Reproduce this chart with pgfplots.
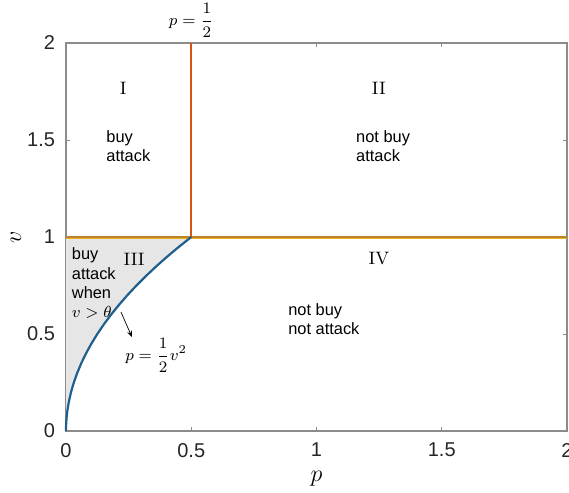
\documentclass[border=0pt]{standalone}
\usepackage{pgfplots}
\pgfplotsset{compat=1.18}
\usepackage{fontspec}
\setsansfont{Liberation Sans}
\usetikzlibrary{arrows.meta}
\definecolor{mred}{HTML}{D95319}
\definecolor{myel}{HTML}{EDB120}
\definecolor{mbrown}{HTML}{B8842C}
\definecolor{mblue}{HTML}{1F5F8E}
\definecolor{fillgray}{HTML}{E6E6E6}
\definecolor{framegray}{HTML}{8C8C8C}

% boundary p = v^2/2 for v in [0,1]
\pgfplotstableread{
p v
0.000000 0.00
0.000050 0.01
0.000200 0.02
0.000450 0.03
0.000800 0.04
0.001250 0.05
0.002450 0.07
0.005000 0.10
0.007200 0.12
0.011250 0.15
0.020000 0.20
0.031250 0.25
0.045000 0.30
0.061250 0.35
0.080000 0.40
0.101250 0.45
0.125000 0.50
0.151250 0.55
0.180000 0.60
0.211250 0.65
0.245000 0.70
0.281250 0.75
0.320000 0.80
0.361250 0.85
0.405000 0.90
0.451250 0.95
0.500000 1.00
}\boundary

\begin{document}
\begin{tikzpicture}
\begin{axis}[
  name=ax,
  width=250.5pt, height=194pt,
  scale only axis,
  xmin=0, xmax=2, ymin=0, ymax=2,
  xtick={0,0.5,1,1.5,2}, ytick={0,0.5,1,1.5,2},
  xticklabels={0,0.5,1,1.5,2},
  yticklabels={0,0.5,1,1.5,2},
  tick align=inside,
  major tick length=2pt,
  axis line style={framegray, line width=0.6pt},
  every tick/.style={framegray, line width=0.5pt},
  tick label style={font=\sffamily\fontsize{10}{12}\selectfont, text=black!85},
  xticklabel style={yshift=-2.5pt},
  yticklabel style={xshift=-2pt},
  xlabel={$p$}, ylabel={$v$},
  every axis x label/.style={at={(axis description cs:0.5,0)}, anchor=center, yshift=-24pt, font=\large},
  every axis y label/.style={at={(axis description cs:0,0.5)}, anchor=center, rotate=90, yshift=25pt, font=\large},
  clip=false,
]
% shaded region III
\addplot[draw=none, fill=fillgray] table[x=p, y=v] {\boundary} -- (axis cs:0,1) -- cycle;
% horizontal boundary v = 1
\addplot[myel, line width=1.2pt, yshift=-0.4pt] coordinates {(0,1) (2,1)};
\addplot[mbrown, line width=0.9pt] coordinates {(0,1) (2,1)};
% vertical boundary p = 1/2
\addplot[mred, line width=1.1pt] coordinates {(0.5,1) (0.5,2)};
% curved boundary
\addplot[mblue, line width=1.1pt] table[x=p, y=v] {\boundary};

% region labels
\node[font=\fontsize{9}{11}\selectfont] at (axis cs:0.228,1.768) {I};
\node[font=\fontsize{9}{11}\selectfont] at (axis cs:1.249,1.768) {II};
\node[font=\fontsize{9}{11}\selectfont] at (axis cs:0.272,0.885) {III};
\node[font=\fontsize{9}{11}\selectfont] at (axis cs:1.249,0.887) {IV};

\node[anchor=west, align=left, font=\sffamily\fontsize{8.2}{9.4}\selectfont, inner sep=0pt] at (axis cs:0.16,1.47) {buy\\attack};
\node[anchor=west, align=left, font=\sffamily\fontsize{8.2}{9.4}\selectfont, inner sep=0pt] at (axis cs:1.157,1.47) {not buy\\attack};
\node[anchor=west, align=left, font=\sffamily\fontsize{8.2}{9.4}\selectfont, inner sep=0pt] at (axis cs:0.886,0.575) {not buy\\not attack};
\node[anchor=north west, align=left, font=\sffamily\fontsize{8.2}{9.6}\selectfont, inner sep=0pt] at (axis cs:0.022,0.945) {buy\\attack\\when\\$v>\theta$};

% annotation of the curve
\draw[-{Stealth[length=3pt,width=2.5pt]}, line width=0.35pt] (axis cs:0.2195,0.613) -- (axis cs:0.263,0.485);
\node[font=\fontsize{8.5}{10}\selectfont] at (axis cs:0.36,0.39) {$\displaystyle p=\frac{1}{2}v^2$};

% label of the vertical line
\node[font=\fontsize{8.5}{10}\selectfont] at (axis cs:0.5,2.117) {$\displaystyle p=\frac{1}{2}$};

\coordinate (ll) at (rel axis cs:0,0);
\coordinate (ur) at (rel axis cs:1,1);
\end{axis}
\pgfresetboundingbox
\path[use as bounding box] ([shift={(-33pt,-30.5pt)}]ll) rectangle ([shift={(1pt,21.5pt)}]ur);
\end{tikzpicture}
\end{document}
